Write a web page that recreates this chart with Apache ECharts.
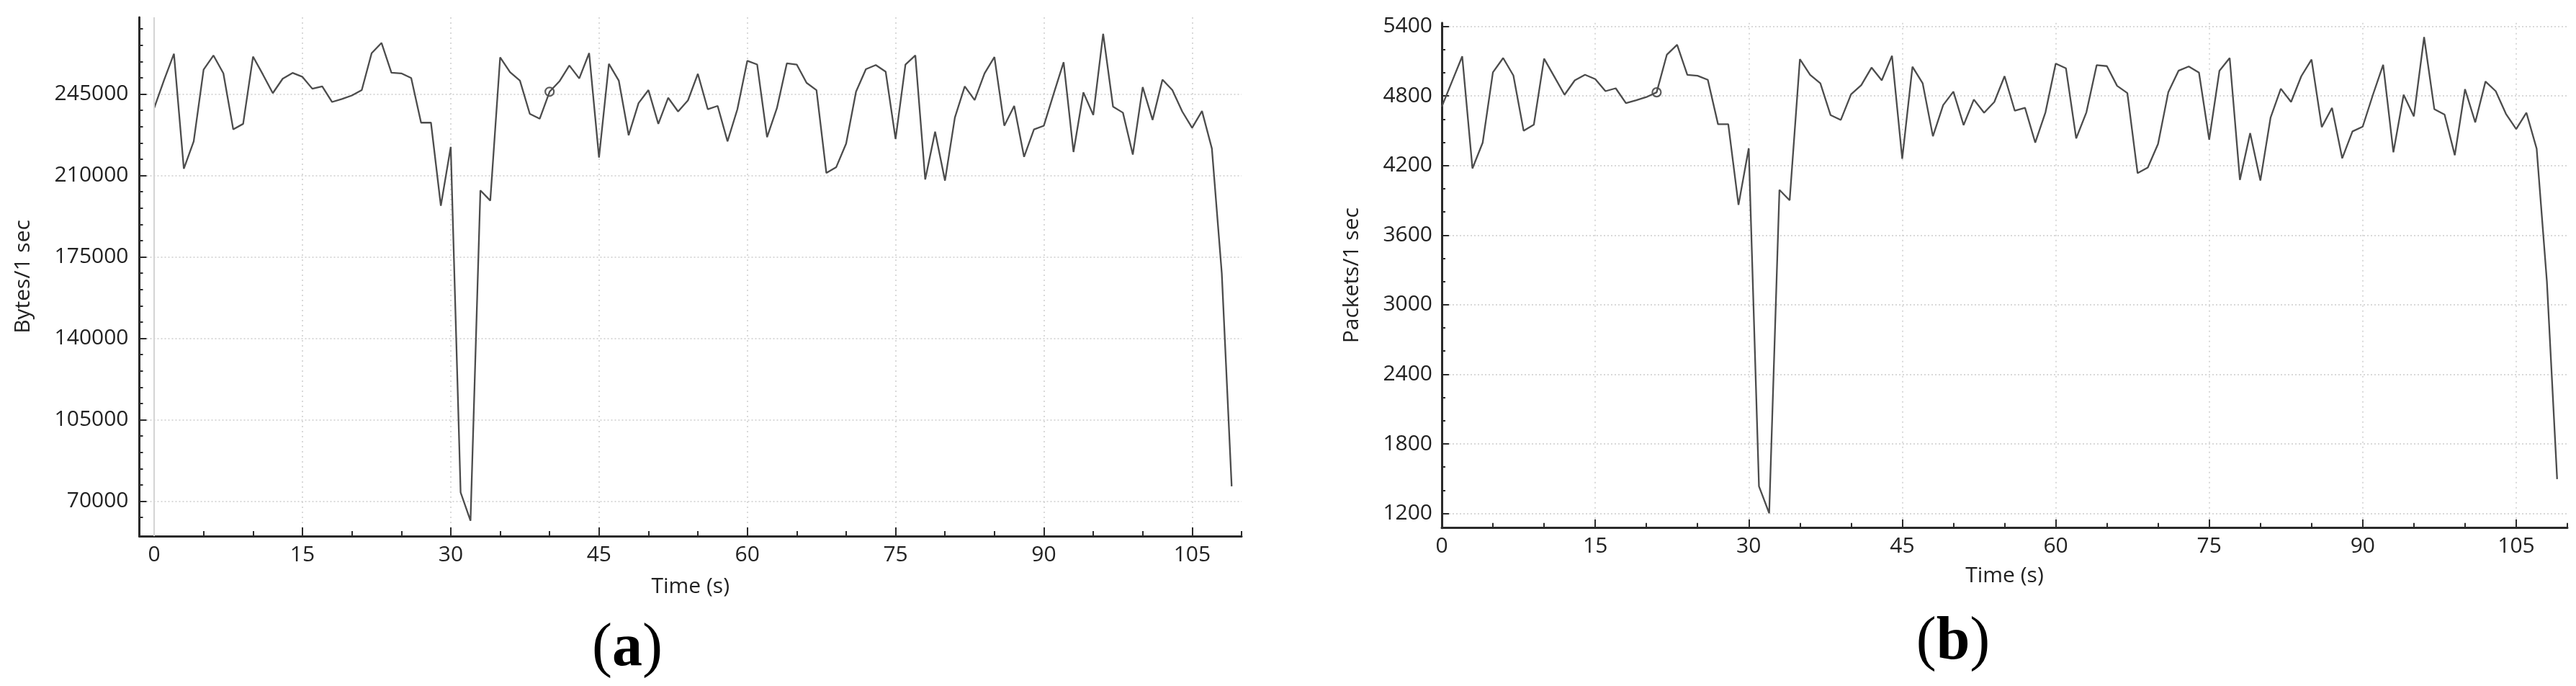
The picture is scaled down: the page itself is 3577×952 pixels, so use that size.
<!DOCTYPE html>
<html>
<head>
<meta charset="utf-8">
<script src="https://cdn.jsdelivr.net/npm/echarts@6/dist/echarts.min.js"></script>
<style>
html,body{margin:0;padding:0;background:#fff;}
#chart{width:3577px;height:952px;}
</style>
</head>
<body>
<div id="chart"></div>
<script>
// ---- data ----
const timeSec = [0,1,2,3,4,5,6,7,8,9,10,11,12,13,14,15,16,17,18,19,20,21,22,23,24,25,26,27,28,29,30,31,32,33,34,35,36,37,38,39,40,41,42,43,44,45,46,47,48,49,50,51,52,53,54,55,56,57,58,59,60,61,62,63,64,65,66,67,68,69,70,71,72,73,74,75,76,77,78,79,80,81,82,83,84,85,86,87,88,89,90,91,92,93,94,95,96,97,98,99,100,101,102,103,104,105,106,107,108,109];

const bytesPerSec = [239000,251000,262300,212900,224700,255500,261600,253900,229800,232200,
261100,253400,245400,251600,254100,252400,247300,248300,241600,242900,
244400,246700,262600,267000,254200,253900,251900,232700,232700,197000,
222300,73800,61600,203600,199200,260800,254400,250800,236500,234400,
246000,250500,257300,251700,262600,217700,258000,250800,227300,241100,
246700,232200,243400,237500,242300,253700,238500,239900,224700,238500,
259300,257700,226500,239000,258200,257700,249800,246700,211100,213600,
223700,246000,255700,257500,254600,225700,257700,261600,208300,228800,
207800,234900,248300,242400,253900,260900,231400,239900,218000,229800,
231400,245200,258700,220100,245700,236000,270900,239600,237000,219000,
248000,233900,251200,246700,237500,230500,237700,221600,168000,76400];

const packetsPerSec = [4707,4924,5141,4175,4397,5003,5127,4976,4500,4552,
5121,4966,4810,4934,4982,4945,4841,4866,4738,4763,
4790,4831,5156,5241,4982,4974,4939,4556,4556,3860,
4349,1434,1202,3990,3900,5117,4982,4908,4634,4593,
4814,4893,5044,4934,5146,4258,5052,4908,4452,4721,
4837,4548,4769,4655,4748,4970,4672,4697,4397,4659,
5079,5038,4434,4659,5065,5057,4887,4825,4134,4183,
4386,4831,5017,5054,5001,4423,5017,5127,4076,4479,
4070,4614,4862,4748,4970,5114,4531,4697,4262,4494,
4535,4810,5069,4314,4810,4624,5307,4686,4639,4289,
4858,4572,4924,4841,4645,4514,4655,4345,3200,1496];

const xTickLabels = [0,15,30,45,60,75,90,105];
const xMinorTicks = [0,5,10,15,20,25,30,35,40,45,50,55,60,65,70,75,80,85,90,95,100,105,110];
const bytesTickLabels = [70000,105000,140000,175000,210000,245000];
const bytesMinorTicks = [63000,70000,77000,84000,91000,98000,105000,112000,119000,126000,133000,140000,147000,154000,161000,168000,175000,182000,189000,196000,203000,210000,217000,224000,231000,238000,245000,252000,259000,266000,273000];
const packetsTickLabels = [1200,1800,2400,3000,3600,4200,4800,5400];
const packetsMinorTicks = [1200,1400,1600,1800,2000,2200,2400,2600,2800,3000,3200,3400,3600,3800,4000,4200,4400,4600,4800,5000,5200,5400];

const markerIdxA = 40;
const markerIdxB = 21;

// ---- styles ----
const FONT = 'Open Sans';
const TXT = '#222';
const AX = '#2a2a2a';
const GRIDC = '#cdcdcd';
const LINEC = '#4c4c4c';
const plain = v => String(v);

function mainX(gi, min, max, gap){
  return {
    type:'value', gridIndex:gi, min:min, max:max,
    axisLine:{show:true, onZero:false, lineStyle:{color:AX, width:3}},
    axisTick:{show:true, inside:true, length:12, customValues:xTickLabels, lineStyle:{color:AX, width:2}},
    axisLabel:{show:true, customValues:xTickLabels, formatter:plain, margin:11, fontSize:30, fontFamily:FONT, color:TXT},
    splitLine:{show:true, lineStyle:{color:GRIDC, width:1.5, type:[2,5]}},
    name:'Time (s)', nameLocation:'middle', nameGap:gap,
    nameTextStyle:{fontSize:30, fontFamily:FONT, color:TXT}
  };
}
function minorX(gi, min, max){
  return {
    type:'value', gridIndex:gi, min:min, max:max, position:'bottom',
    axisLine:{show:false, onZero:false},
    axisTick:{show:true, inside:true, length:7, customValues:xMinorTicks, lineStyle:{color:AX, width:2}},
    axisLabel:{show:false}, splitLine:{show:false}
  };
}
function mainY(gi, min, max, labels, name, gap, margin){
  return {
    type:'value', gridIndex:gi, min:min, max:max, position:'left',
    axisLine:{show:true, onZero:false, lineStyle:{color:AX, width:3}},
    axisTick:{show:true, inside:true, length:10, customValues:labels, lineStyle:{color:AX, width:2}},
    axisLabel:{show:true, customValues:labels, formatter:plain, margin:margin, fontSize:30, fontFamily:FONT, color:TXT},
    splitLine:{show:true, lineStyle:{color:GRIDC, width:1.5, type:[2,3]}},
    name:name, nameLocation:'middle', nameGap:gap,
    nameTextStyle:{fontSize:30, fontFamily:FONT, color:TXT}
  };
}
function minorY(gi, min, max, ticks){
  return {
    type:'value', gridIndex:gi, min:min, max:max, position:'left',
    axisLine:{show:false, onZero:false},
    axisTick:{show:true, inside:true, length:5, customValues:ticks, lineStyle:{color:AX, width:2}},
    axisLabel:{show:false}, splitLine:{show:false}
  };
}

const seriesA = timeSec.map((t,i)=>[t, bytesPerSec[i]]);
const seriesB = timeSec.map((t,i)=>[t, packetsPerSec[i]]);

const option = {
  animation:false,
  backgroundColor:'#fff',
  grid:[
    {left:193.5, top:24, width:1530.5, height:720},
    {left:2002, top:31.7, width:1563, height:701}
  ],
  xAxis:[
    mainX(0, -1.5, 110, 55),
    minorX(0, -1.5, 110),
    mainX(1, 0, 110, 52),
    minorX(1, 0, 110)
  ],
  yAxis:[
    mainY(0, 55000, 278000, bytesTickLabels, 'Bytes/1 sec', 146, 15),
    minorY(0, 55000, 278000, bytesMinorTicks),
    mainY(1, 1075, 5430, packetsTickLabels, 'Packets/1 sec', 110, 13),
    minorY(1, 1075, 5430, packetsMinorTicks)
  ],
  series:[
    {
      type:'line', xAxisIndex:0, yAxisIndex:0, data:seriesA,
      showSymbol:false, lineStyle:{color:LINEC, width:2.3},
      markLine:{silent:true, symbol:'none', label:{show:false},
        lineStyle:{color:'#d4d4d4', type:'solid', width:2}, data:[{xAxis:0}]}
    },
    {
      type:'scatter', xAxisIndex:0, yAxisIndex:0,
      data:[[timeSec[markerIdxA], bytesPerSec[markerIdxA]]],
      symbol:'circle', symbolSize:12,
      itemStyle:{color:'rgba(255,255,255,0)', borderColor:'#333', borderWidth:2.2}
    },
    {
      type:'line', xAxisIndex:2, yAxisIndex:2, data:seriesB,
      showSymbol:false, lineStyle:{color:LINEC, width:2.3}
    },
    {
      type:'scatter', xAxisIndex:2, yAxisIndex:2,
      data:[[timeSec[markerIdxB], packetsPerSec[markerIdxB]]],
      symbol:'circle', symbolSize:12,
      itemStyle:{color:'rgba(255,255,255,0)', borderColor:'#333', borderWidth:2.2}
    }
  ],
  graphic:[
    {type:'text', x:871, y:901, style:{text:'{p|(}{b|a}{p|)}', align:'center', verticalAlign:'middle',
      rich:{p:{fontFamily:'Liberation Serif', fontSize:84, fill:'#000'}, b:{fontFamily:'Liberation Serif', fontSize:84, fontWeight:'bold', fill:'#000'}}}},
    {type:'text', x:2712, y:892, style:{text:'{p|(}{b|b}{p|)}', align:'center', verticalAlign:'middle',
      rich:{p:{fontFamily:'Liberation Serif', fontSize:84, fill:'#000'}, b:{fontFamily:'Liberation Serif', fontSize:84, fontWeight:'bold', fill:'#000'}}}}
  ]
};

const chart = echarts.init(document.getElementById('chart'), null, {renderer:'canvas'});
chart.setOption(option);
</script>
</body>
</html>
